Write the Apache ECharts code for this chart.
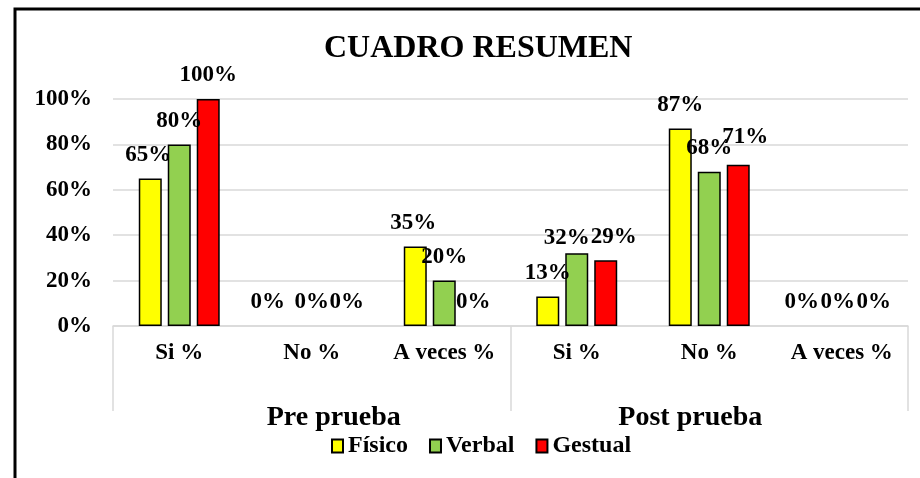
<!DOCTYPE html>
<html>
<head>
<meta charset="utf-8">
<script src="https://cdn.jsdelivr.net/npm/echarts@6/dist/echarts.min.js"></script>
<style>
  html, body { margin: 0; padding: 0; background: #ffffff; }
  #chart { width: 920px; height: 478px; }
</style>
</head>
<body>
<div id="chart"></div>
<script>
// ---- data ----
const categories = ['Si %', 'No %', 'A veces %', 'Si %', 'No %', 'A veces %'];
const groups = ['Pre prueba', 'Post prueba'];
const fisico = [65, 0, 35, 13, 87, 0];
const verbal = [80, 0, 20, 32, 68, 0];
const gestual = [100, 0, 0, 29, 71, 0];
const seriesNames = ['Físico', 'Verbal', 'Gestual'];

// ---- style ----
const FONT = "'Liberation Serif', 'Times New Roman', serif";
const colors = ['#FFFF00', '#92D050', '#FF0000'];
const gridColor = '#d9d9d9';
// small label nudges [dx, dy] reproducing the label placement of the original
const labelNudge = [
  { 0: [-2, 0], 1: [-15, 0], 2: [-2, 0], 5: [-11, 0] },
  { 3: [-10, 8], 5: [-4, 0] },
  { 1: [6, 0], 3: [8, 0], 4: [7, -4], 5: [3, 0] }
];

function buildData(values, si) {
  return values.map(function (v, i) {
    const item = { value: v };
    const n = labelNudge[si][i];
    if (n) item.label = { offset: n };
    if (v === 0) item.itemStyle = { borderWidth: 0 };
    return item;
  });
}

const seriesValues = [fisico, verbal, gestual];

const chart = echarts.init(document.getElementById('chart'), null, { renderer: 'canvas' });

const option = {
  animation: false,
  backgroundColor: '#ffffff',
  title: {
    text: 'CUADRO RESUMEN',
    left: 324,
    top: 33,
    padding: 0,
    textStyle: { fontFamily: FONT, fontSize: 32, fontWeight: 'bold', color: '#000' }
  },
  legend: {
    data: seriesNames,
    left: 331,
    top: 434,
    padding: 0,
    itemWidth: 11,
    itemHeight: 13,
    itemGap: 21,
    icon: 'rect',
    textStyle: { fontFamily: FONT, fontSize: 24, fontWeight: 'bold', color: '#000' }
  },
  grid: { left: 113, right: 12, top: 99, bottom: 152, containLabel: false },
  xAxis: [
    {
      type: 'category',
      data: categories,
      position: 'bottom',
      axisLine: { show: true, lineStyle: { color: gridColor, width: 1.5 } },
      axisTick: { show: false },
      axisLabel: { margin: 16, fontFamily: FONT, fontSize: 23, fontWeight: 'bold', color: '#000', interval: 0 }
    },
    {
      type: 'category',
      data: groups,
      position: 'bottom',
      axisLine: { show: false },
      axisTick: { show: true, length: 85, lineStyle: { color: gridColor, width: 1.5 } },
      axisLabel: {
        margin: 78,
        interval: 0,
        formatter: function (v, i) { return i === 0 ? '{a|' + v + '}' : '{b|' + v + '}'; },
        rich: {
          a: { fontFamily: FONT, fontSize: 28, fontWeight: 'bold', color: '#000', padding: [0, 0, 0, 44] },
          b: { fontFamily: FONT, fontSize: 28, fontWeight: 'bold', color: '#000', padding: [0, 38, 0, 0] }
        }
      }
    }
  ],
  yAxis: {
    type: 'value',
    min: 0,
    max: 100,
    interval: 20,
    axisLine: { show: false },
    axisTick: { show: false },
    splitLine: { lineStyle: { color: gridColor, width: 1.5 } },
    axisLabel: { formatter: '{value}%', margin: 21, fontFamily: FONT, fontSize: 23, fontWeight: 'bold', color: '#000' }
  },
  series: seriesNames.map(function (name, si) {
    return {
      name: name,
      type: 'bar',
      xAxisIndex: 0,
      barWidth: 23,
      barGap: '26%',
      data: buildData(seriesValues[si], si),
      itemStyle: { color: colors[si], borderColor: '#000', borderWidth: 1.5 },
      label: {
        show: true,
        position: 'top',
        distance: 12,
        formatter: '{c}%',
        fontFamily: FONT,
        fontSize: 23,
        fontWeight: 'bold',
        color: '#000'
      }
    };
  }),
  graphic: [
    {
      type: 'rect',
      silent: true,
      z: 100,
      shape: { x: 15, y: 9, width: 920, height: 480 },
      style: { fill: 'none', stroke: '#000', lineWidth: 3 }
    }
  ]
};

chart.setOption(option);
</script>
</body>
</html>
